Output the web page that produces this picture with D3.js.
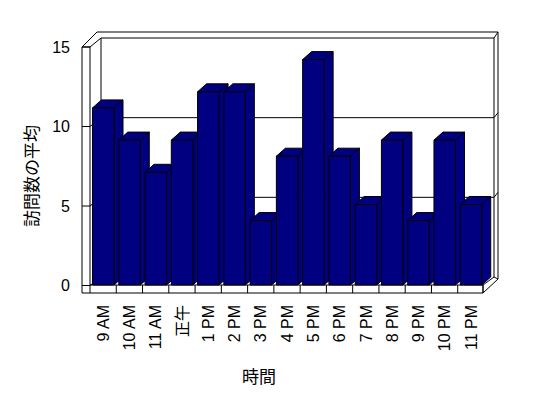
<!DOCTYPE html>
<html>
<head>
<meta charset="utf-8">
<script src="https://cdn.jsdelivr.net/npm/d3@7"></script>
<style>
  body { margin: 0; background: #fff; }
  text { font-family: "Liberation Sans", Arial, "Noto Sans CJK JP", sans-serif; fill: #000; }
  .cjk { font-family: "Noto Sans CJK JP", sans-serif; }
</style>
</head>
<body>
<script>
var width = 548,
    height = 398;

// data
var hours = ["9 AM", "10 AM", "11 AM", "正午", "1 PM", "2 PM", "3 PM", "4 PM",
             "5 PM", "6 PM", "7 PM", "8 PM", "9 PM", "10 PM", "11 PM"];
var visits = [11, 9, 7, 9, 12, 12, 4, 8, 14, 8, 5, 9, 4, 9, 5];
var yTicks = [0, 5, 10, 15];

var barColor = "#000080";

// depth of the box and of each bar
var wallDx = 11, wallDy = -8;
var barDx = 9, barDy = -8;

var x = d3.scaleBand().domain(hours).range([90, 484]).padding(0);
var yFront = d3.scaleLinear().domain([0, 15]).range([285.5, 47]);
var yBack = d3.scaleLinear().domain([0, 15]).range([277, 38]);
var yBar = d3.scaleLinear().domain([0, 15]).range([285, 43.5]);

var svg = d3.select("body").append("svg")
    .attr("width", width)
    .attr("height", height);

var line = function(g, x1, y1, x2, y2) {
  g.append("line")
    .attr("x1", x1).attr("y1", y1).attr("x2", x2).attr("y2", y2)
    .attr("stroke", "#000").attr("stroke-width", 1);
};

var poly = function(g, pts, fill) {
  g.append("polygon")
    .attr("points", pts.map(p => p.join(",")).join(" "))
    .attr("fill", fill)
    .attr("stroke", "#000")
    .attr("stroke-width", 1)
    .attr("stroke-linejoin", "miter");
};

var box = svg.append("g").attr("class", "walls");

var xL = 90, xR = 483,
    yTop = yFront(15), yBot = yFront(0);
var bxL = xL + wallDx, bxR = xR + wallDx;
var byTop = yBack(15), byBot = yBack(0);

// back wall, outer thickness
line(box, 97, 32, 498, 32);
line(box, 498, 32, 498, 279);
line(box, bxR, byTop, 498, 32);
// back wall inner face
line(box, bxL, byTop, bxR, byTop);
line(box, bxL, byTop, bxL, byBot);
line(box, bxR, byTop, bxR, byBot);

// gridlines on the back and side walls
yTicks.filter(v => v > 0 && v < 15).forEach(function(v) {
  line(box, bxL, yBack(v), bxR, yBack(v));
  line(box, bxR, yBack(v), 498, yBack(v) - 5);
  line(box, xL, yFront(v), bxL, yBack(v));
});

// left wall
line(box, 82, yTop, 82, 293);
line(box, xL, yTop, xL, yBot);
line(box, 82, yTop, xL, yTop);
line(box, 82, yTop, 97, 32);
line(box, xL, yTop, bxL, byTop);

// floor
line(box, xL, yBot, bxL, byBot);
line(box, 82, 293, xR, 293);
line(box, xL, 285, xR, 285);
poly(box, [[xR, 285], [bxR, byBot], [498, 279], [xR, 293]], "#fff");
x.domain().forEach(function(c, i) {
  line(box, x(c), 285, x(c), 293);
});
line(box, xR, 285, xR, 293);

// y ticks across the wall face
yTicks.forEach(function(v) {
  line(box, 82, yFront(v), xL, yFront(v));
});

// bars
var bw = 21.5;
var bars = svg.append("g").attr("class", "bars");
hours.forEach(function(c, i) {
  var g = bars.append("g");
  var x0 = x(c) + 2.5, x1 = x0 + bw;
  var t = yBar(visits[i]), b = yBar(0);
  poly(g, [[x1, t], [x1 + barDx, t + barDy], [x1 + barDx, b + barDy], [x1, b]], barColor);
  poly(g, [[x0, t], [x0 + barDx, t + barDy], [x1 + barDx, t + barDy], [x1, t]], barColor);
  poly(g, [[x0, t], [x1, t], [x1, b], [x0, b]], barColor);
});

// y tick labels
svg.append("g").selectAll("text").data(yTicks)
  .enter().append("text")
    .attr("x", 70)
    .attr("y", d => yFront(d))
    .attr("dy", "0.36em")
    .attr("text-anchor", "end")
    .attr("font-size", 16)
    .text(d => d);

// x tick labels, rotated
svg.append("g").selectAll("text").data(hours)
  .enter().append("text")
    .attr("transform", d => "translate(" + (x(d) + x.bandwidth() / 2) + ",305) rotate(-90)")
    .attr("dy", "0.36em")
    .attr("text-anchor", "end")
    .attr("font-size", 16)
    .text(d => d);

// axis titles
svg.append("text")
    .attr("class", "cjk")
    .attr("x", 259)
    .attr("y", 383)
    .attr("text-anchor", "middle")
    .attr("font-size", 17)
    .text("時間");

svg.append("text")
    .attr("class", "cjk")
    .attr("transform", "translate(32,176) rotate(-90)")
    .attr("dy", "0.36em")
    .attr("text-anchor", "middle")
    .attr("font-size", 17)
    .text("訪問数の平均");
</script>
</body>
</html>
